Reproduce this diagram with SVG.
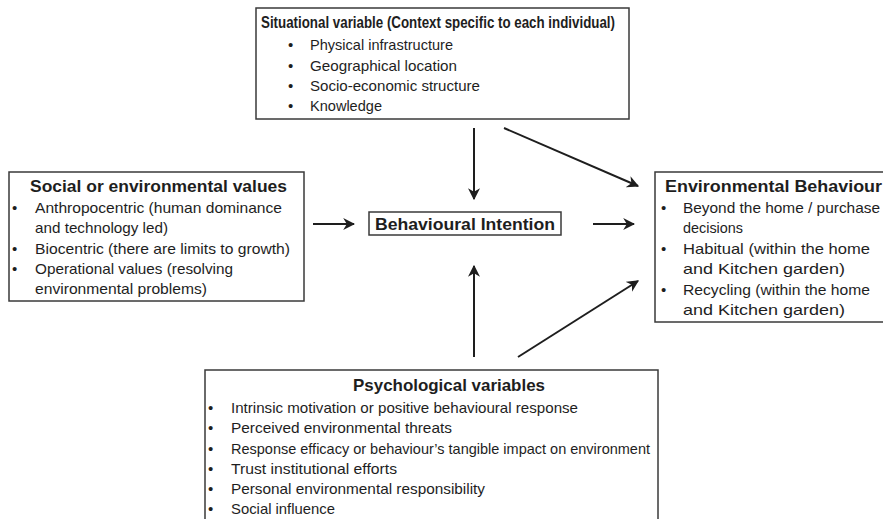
<svg xmlns="http://www.w3.org/2000/svg" width="883" height="519" viewBox="0 0 883 519">
<defs>
<style>
.box{fill:#fff;stroke:#3a3a3a;stroke-width:1.5}
.t{font-family:"Liberation Sans",Arial,sans-serif;font-size:15px;fill:#1e1e1e}
.h{font-family:"Liberation Sans",Arial,sans-serif;font-size:17px;font-weight:bold;fill:#1e1e1e}
.c{stroke:#1e1e1e;stroke-width:2;fill:none;marker-end:url(#ah)}
</style>
<marker id="ah" viewBox="0 0 10 10" refX="9" refY="5" markerWidth="6" markerHeight="6" orient="auto" markerUnits="strokeWidth">
<path d="M0,0 L10,5 L0,10 L3,5 Z" fill="#1e1e1e"/>
</marker>
</defs>
<rect width="883" height="519" fill="#fff"/>
<g id="situational">
<rect class="box" x="256" y="8" width="373" height="111"/>
<text class="h" x="261" y="28" textLength="354" lengthAdjust="spacingAndGlyphs">Situational variable (Context specific to each individual)</text>
<g class="t">
<text x="288" y="50">•</text><text x="310" y="50" textLength="143" lengthAdjust="spacingAndGlyphs">Physical infrastructure</text>
<text x="288" y="71">•</text><text x="310" y="71" textLength="147" lengthAdjust="spacingAndGlyphs">Geographical location</text>
<text x="288" y="91">•</text><text x="310" y="91" textLength="170" lengthAdjust="spacingAndGlyphs">Socio-economic structure</text>
<text x="288" y="111">•</text><text x="310" y="111" textLength="72" lengthAdjust="spacingAndGlyphs">Knowledge</text>
</g>
</g>
<g id="values">
<rect class="box" x="9" y="172" width="295" height="129"/>
<text class="h" x="30" y="192" textLength="257" lengthAdjust="spacingAndGlyphs">Social or environmental values</text>
<g class="t">
<text x="12" y="213">•</text><text x="35" y="213" textLength="247" lengthAdjust="spacingAndGlyphs">Anthropocentric (human dominance</text>
<text x="35" y="233" textLength="133" lengthAdjust="spacingAndGlyphs">and technology led)</text>
<text x="12" y="254">•</text><text x="35" y="254" textLength="255" lengthAdjust="spacingAndGlyphs">Biocentric (there are limits to growth)</text>
<text x="12" y="274">•</text><text x="35" y="274" textLength="198" lengthAdjust="spacingAndGlyphs">Operational values (resolving</text>
<text x="35" y="294" textLength="172" lengthAdjust="spacingAndGlyphs">environmental problems)</text>
</g>
</g>
<g id="intention">
<rect class="box" x="369" y="212" width="192" height="23"/>
<text class="h" x="465" y="230" text-anchor="middle" textLength="180" lengthAdjust="spacingAndGlyphs">Behavioural Intention</text>
</g>
<g id="behaviour">
<rect class="box" x="655" y="172" width="240" height="150"/>
<text class="h" x="665" y="192" textLength="217" lengthAdjust="spacingAndGlyphs">Environmental Behaviour</text>
<g class="t">
<text x="661" y="213">•</text><text x="683" y="213" textLength="197" lengthAdjust="spacingAndGlyphs">Beyond the home / purchase</text>
<text x="683" y="233" textLength="60" lengthAdjust="spacingAndGlyphs">decisions</text>
<text x="661" y="254">•</text><text x="683" y="254" textLength="187" lengthAdjust="spacingAndGlyphs">Habitual (within the home</text>
<text x="683" y="274" textLength="162" lengthAdjust="spacingAndGlyphs">and Kitchen garden)</text>
<text x="661" y="295">•</text><text x="683" y="295" textLength="187" lengthAdjust="spacingAndGlyphs">Recycling (within the home</text>
<text x="683" y="315" textLength="162" lengthAdjust="spacingAndGlyphs">and Kitchen garden)</text>
</g>
</g>
<g id="psychological">
<rect class="box" x="205" y="370" width="453" height="160"/>
<text class="h" x="353" y="391" textLength="192" lengthAdjust="spacingAndGlyphs">Psychological variables</text>
<g class="t">
<text x="208" y="413">•</text><text x="231" y="413" textLength="347" lengthAdjust="spacingAndGlyphs">Intrinsic motivation or positive behavioural response</text>
<text x="208" y="433">•</text><text x="231" y="433" textLength="221" lengthAdjust="spacingAndGlyphs">Perceived environmental threats</text>
<text x="208" y="454">•</text><text x="231" y="454" textLength="419" lengthAdjust="spacingAndGlyphs">Response efficacy or behaviour’s tangible impact on environment</text>
<text x="208" y="474">•</text><text x="231" y="474" textLength="166" lengthAdjust="spacingAndGlyphs">Trust institutional efforts</text>
<text x="208" y="494">•</text><text x="231" y="494" textLength="254" lengthAdjust="spacingAndGlyphs">Personal environmental responsibility</text>
<text x="208" y="514">•</text><text x="231" y="514" textLength="104" lengthAdjust="spacingAndGlyphs">Social influence</text>
</g>
</g>
<g id="connectors">
<line class="c" x1="474" y1="128" x2="474" y2="199"/>
<line class="c" x1="504" y1="128" x2="638" y2="186"/>
<line class="c" x1="313" y1="224" x2="354" y2="224"/>
<line class="c" x1="593" y1="224" x2="634" y2="224"/>
<line class="c" x1="474" y1="357" x2="474" y2="266"/>
<line class="c" x1="518" y1="357" x2="638" y2="281"/>
</g>
</svg>
